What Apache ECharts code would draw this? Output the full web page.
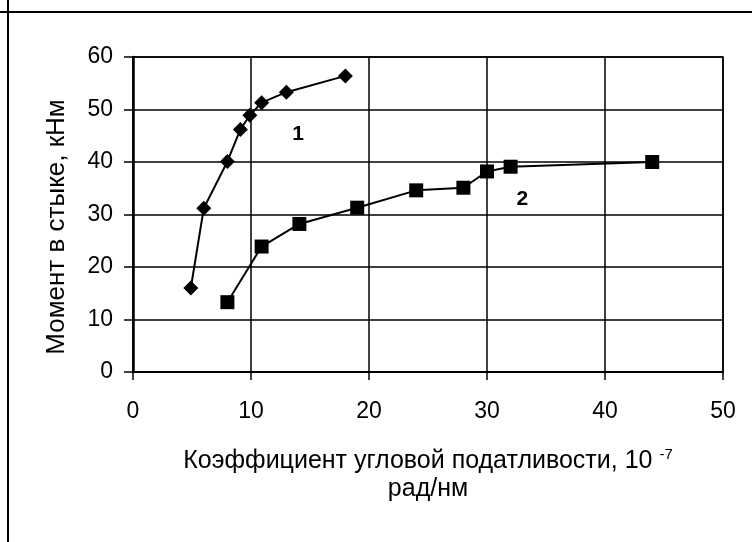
<!DOCTYPE html>
<html>
<head>
<meta charset="utf-8">
<script src="https://cdn.jsdelivr.net/npm/echarts@6/dist/echarts.min.js"></script>
<style>
html,body{margin:0;padding:0;background:#fff;}
#c{width:752px;height:542px;}
</style>
</head>
<body>
<div id="c"></div>
<script>
// Curve 1 (diamonds)
const series1X = [4.9, 6.0, 8.0, 9.1, 9.9, 10.9, 13.0, 18.0];
const series1Y = [16.0, 31.2, 40.1, 46.2, 48.9, 51.3, 53.3, 56.4];
// Curve 2 (squares)
const series2X = [8.0, 10.9, 14.1, 19.0, 24.0, 28.0, 30.0, 32.0, 44.0];
const series2Y = [13.3, 23.9, 28.2, 31.3, 34.6, 35.1, 38.2, 39.1, 40.0];
const seriesNames = ['1', '2'];
// curve label anchor points (data space)
const labelPoints = [[14, 45.2], [33, 33]];
const xTicks = [0, 10, 20, 30, 40, 50];
const yTicks = [0, 10, 20, 30, 40, 50, 60];

const font = 'Liberation Sans, Arial, sans-serif';
const chart = echarts.init(document.getElementById('c'), null, {renderer: 'canvas'});

function pairs(xs, ys) { return xs.map((x, i) => [x, ys[i]]); }

chart.setOption({
  backgroundColor: '#ffffff',
  animation: false,
  grid: {left: 133, right: 29, top: 57, bottom: 170, show: true, borderColor: '#000', borderWidth: 1.5},
  xAxis: {
    type: 'value', min: xTicks[0], max: xTicks[xTicks.length - 1], interval: 10,
    nameLocation: 'middle', nameGap: 75,
    name: '{a|Коэффициент угловой податливости, 10 }{s|-7}\n{a|рад/нм}',
    nameTextStyle: {
      rich: {
        a: {fontFamily: font, fontSize: 25, color: '#000', lineHeight: 28},
        s: {fontFamily: font, fontSize: 15, color: '#000', verticalAlign: 'top', lineHeight: 28, padding: [0, 0, 10, 0]}
      }
    },
    axisLine: {show: true, onZero: false, lineStyle: {color: '#000', width: 2}},
    axisTick: {show: true, length: 8, inside: false, lineStyle: {color: '#000', width: 1.5}},
    axisLabel: {margin: 28, fontFamily: font, fontSize: 23, color: '#000'},
    splitLine: {show: true, lineStyle: {color: '#000', width: 1.5}}
  },
  yAxis: {
    type: 'value', min: yTicks[0], max: yTicks[yTicks.length - 1], interval: 10,
    name: 'Момент в стыке, кНм', nameLocation: 'middle', nameGap: 63,
    nameTextStyle: {fontFamily: font, fontSize: 26, color: '#000', padding: [0, 25, 0, 0]},
    axisLine: {show: true, onZero: false, lineStyle: {color: '#000', width: 2.5}},
    axisTick: {show: true, length: 9, inside: false, lineStyle: {color: '#000', width: 1.5}},
    axisLabel: {margin: 20, fontFamily: font, fontSize: 23, color: '#000'},
    splitLine: {show: true, lineStyle: {color: '#000', width: 1.5}}
  },
  series: [
    {
      name: seriesNames[0], type: 'line', data: pairs(series1X, series1Y),
      symbol: 'diamond', symbolSize: 15,
      lineStyle: {color: '#000', width: 2}, itemStyle: {color: '#000'},
      markPoint: {
        symbol: 'circle', symbolSize: 0, silent: true,
        label: {show: true, formatter: seriesNames[0], fontFamily: font, fontSize: 21, fontWeight: 'bold', color: '#000'},
        data: [{coord: labelPoints[0]}]
      }
    },
    {
      name: seriesNames[1], type: 'line', data: pairs(series2X, series2Y),
      symbol: 'rect', symbolSize: 14,
      lineStyle: {color: '#000', width: 2}, itemStyle: {color: '#000'},
      markPoint: {
        symbol: 'circle', symbolSize: 0, silent: true,
        label: {show: true, formatter: seriesNames[1], fontFamily: font, fontSize: 21, fontWeight: 'bold', color: '#000'},
        data: [{coord: labelPoints[1]}]
      }
    }
  ],
  graphic: [
    {type: 'line', shape: {x1: 0, y1: 12, x2: 752, y2: 12}, style: {stroke: '#000', lineWidth: 2}},
    {type: 'line', shape: {x1: 8, y1: 0, x2: 8, y2: 542}, style: {stroke: '#000', lineWidth: 2}}
  ]
});
</script>
</body>
</html>
